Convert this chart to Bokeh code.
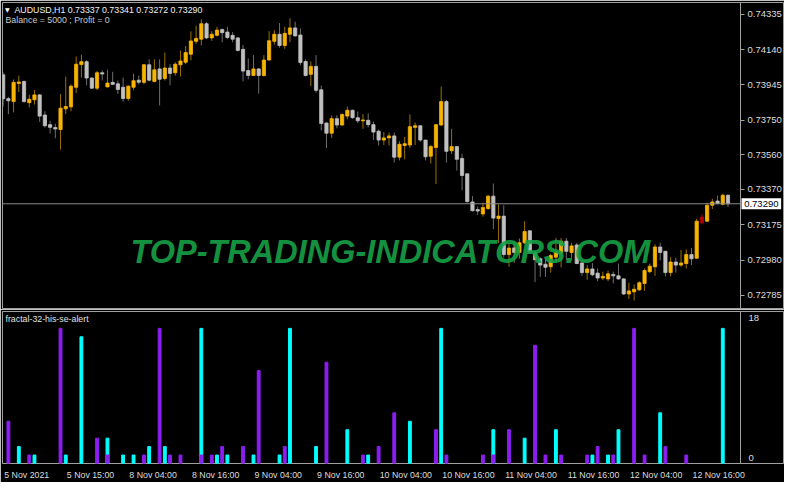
from bokeh.plotting import figure
from bokeh.models import (ColumnDataSource, Range1d, FixedTicker, Label, LinearAxis,
                          NumeralTickFormatter, AllLabels)
from bokeh.layouts import column
from bokeh.embed import file_html
from bokeh.resources import INLINE

# ---------------- data (AUDUSD H1) ----------------
opens = [
    0.74001, 0.73869, 0.73853, 0.73953, 0.73964, 0.73847, 0.73863, 0.73890, 0.73779, 0.73726,
    0.73710, 0.73699, 0.73813, 0.73824, 0.73932, 0.74057, 0.74073, 0.73983, 0.73927, 0.74012,
    0.73934, 0.73959, 0.73951, 0.73932, 0.73870, 0.73932, 0.73971, 0.73959, 0.74056, 0.73964,
    0.74033, 0.73980, 0.74038, 0.74012, 0.74056, 0.74070, 0.74114, 0.74185, 0.74197, 0.74282,
    0.74204, 0.74218, 0.74250, 0.74236, 0.74218, 0.74204, 0.74141, 0.74024, 0.73997, 0.74033,
    0.73997, 0.74082, 0.74185, 0.74224, 0.74162, 0.74224, 0.74259, 0.74220, 0.74074, 0.74003,
    0.74047, 0.73918, 0.73735, 0.73679, 0.73759, 0.73724, 0.73773, 0.73805, 0.73764, 0.73747,
    0.73750, 0.73726, 0.73690, 0.73641, 0.73653, 0.73664, 0.73547, 0.73611, 0.73614, 0.73711,
    0.73720, 0.73641, 0.73552, 0.73600, 0.73724, 0.73853, 0.73582, 0.73605, 0.73540, 0.73455,
    0.73300, 0.73258, 0.73234, 0.73264, 0.73332, 0.73209, 0.73222, 0.73010, 0.73047, 0.73022,
    0.73075, 0.73141, 0.73022, 0.72987, 0.72957, 0.72943, 0.72996, 0.73017, 0.73084, 0.73022,
    0.73063, 0.72964, 0.72911, 0.72931, 0.72908, 0.72881, 0.72876, 0.72901, 0.72893, 0.72876,
    0.72793, 0.72805, 0.72816, 0.72851, 0.72916, 0.72943, 0.73052, 0.73028, 0.72911, 0.72969,
    0.72952, 0.72961, 0.73010, 0.72990, 0.73185, 0.73194, 0.73282, 0.73305, 0.73287, 0.73337]

highs = [
    0.74012, 0.73879, 0.73975, 0.73996, 0.73969, 0.73890, 0.73916, 0.73895, 0.73800, 0.73747,
    0.73731, 0.73895, 0.73991, 0.73948, 0.74102, 0.74112, 0.74081, 0.73985, 0.74022, 0.74024,
    0.74028, 0.74017, 0.73969, 0.73985, 0.73943, 0.74006, 0.73996, 0.74059, 0.74086, 0.74086,
    0.74086, 0.74123, 0.74059, 0.74070, 0.74134, 0.74160, 0.74240, 0.74271, 0.74307, 0.74291,
    0.74241, 0.74265, 0.74256, 0.74265, 0.74236, 0.74208, 0.74165, 0.74091, 0.74109, 0.74038,
    0.74109, 0.74241, 0.74247, 0.74286, 0.74265, 0.74312, 0.74294, 0.74256, 0.74086, 0.74074,
    0.74109, 0.73941, 0.73738, 0.73777, 0.73777, 0.73788, 0.73826, 0.73809, 0.73798, 0.73784,
    0.73788, 0.73743, 0.73699, 0.73685, 0.73682, 0.73682, 0.73635, 0.73658, 0.73782, 0.73738,
    0.73720, 0.73641, 0.73614, 0.73728, 0.73936, 0.73862, 0.73703, 0.73607, 0.73565, 0.73457,
    0.73332, 0.73275, 0.73296, 0.73339, 0.73402, 0.73287, 0.73282, 0.73075, 0.73084, 0.73099,
    0.73194, 0.73143, 0.73031, 0.72996, 0.72993, 0.73014, 0.73102, 0.73102, 0.73102, 0.73075,
    0.73075, 0.72982, 0.72952, 0.72964, 0.72934, 0.72916, 0.72922, 0.72916, 0.72961, 0.72881,
    0.72855, 0.72846, 0.72863, 0.72934, 0.72961, 0.73067, 0.73075, 0.73031, 0.72996, 0.72993,
    0.73035, 0.73038, 0.73046, 0.73208, 0.73234, 0.73296, 0.73317, 0.73335, 0.73346, 0.73341]

lows = [
    0.73826, 0.73784, 0.73794, 0.73906, 0.73847, 0.73821, 0.73837, 0.73741, 0.73710, 0.73678,
    0.73651, 0.73588, 0.73784, 0.73800, 0.73900, 0.73985, 0.73943, 0.73922, 0.73916, 0.73969,
    0.73932, 0.73943, 0.73895, 0.73853, 0.73858, 0.73916, 0.73948, 0.73948, 0.73964, 0.73959,
    0.73832, 0.73969, 0.73943, 0.73996, 0.73991, 0.74059, 0.74081, 0.74171, 0.74162, 0.74197,
    0.74188, 0.74212, 0.74180, 0.74197, 0.74180, 0.74130, 0.73964, 0.73976, 0.73994, 0.73897,
    0.73991, 0.74079, 0.74167, 0.74150, 0.74144, 0.74180, 0.74212, 0.74053, 0.73991, 0.73938,
    0.73902, 0.73694, 0.73597, 0.73653, 0.73706, 0.73720, 0.73756, 0.73759, 0.73735, 0.73703,
    0.73711, 0.73641, 0.73611, 0.73614, 0.73611, 0.73517, 0.73529, 0.73535, 0.73597, 0.73614,
    0.73632, 0.73529, 0.73512, 0.73399, 0.73720, 0.73517, 0.73565, 0.73473, 0.73364, 0.73296,
    0.73247, 0.73229, 0.73219, 0.73256, 0.73150, 0.73074, 0.72993, 0.72943, 0.72964, 0.72987,
    0.73068, 0.73014, 0.72858, 0.72887, 0.72887, 0.72911, 0.72964, 0.72940, 0.72978, 0.72978,
    0.72957, 0.72893, 0.72872, 0.72890, 0.72863, 0.72869, 0.72863, 0.72851, 0.72872, 0.72787,
    0.72766, 0.72757, 0.72810, 0.72810, 0.72908, 0.72893, 0.72978, 0.72890, 0.72890, 0.72911,
    0.72943, 0.72934, 0.72952, 0.72987, 0.73176, 0.73190, 0.73261, 0.73287, 0.73282, 0.73272]

closes = [
    0.73869, 0.73858, 0.73959, 0.73961, 0.73853, 0.73866, 0.73890, 0.73773, 0.73720, 0.73711,
    0.73702, 0.73817, 0.73826, 0.73938, 0.74059, 0.74073, 0.73983, 0.73927, 0.74012, 0.74005,
    0.73955, 0.73948, 0.73920, 0.73870, 0.73938, 0.73968, 0.73960, 0.74056, 0.73971, 0.74028,
    0.73976, 0.74038, 0.74008, 0.74059, 0.74077, 0.74123, 0.74187, 0.74201, 0.74282, 0.74204,
    0.74224, 0.74247, 0.74233, 0.74206, 0.74197, 0.74135, 0.74021, 0.73997, 0.74033, 0.73997,
    0.74082, 0.74188, 0.74224, 0.74162, 0.74229, 0.74259, 0.74215, 0.74068, 0.73997, 0.74047,
    0.73915, 0.73732, 0.73679, 0.73759, 0.73724, 0.73782, 0.73805, 0.73764, 0.73747, 0.73752,
    0.73726, 0.73685, 0.73641, 0.73653, 0.73664, 0.73547, 0.73618, 0.73621, 0.73715, 0.73720,
    0.73641, 0.73549, 0.73605, 0.73726, 0.73853, 0.73579, 0.73605, 0.73535, 0.73446, 0.73302,
    0.73252, 0.73250, 0.73270, 0.73332, 0.73211, 0.73222, 0.73010, 0.73046, 0.73022, 0.73075,
    0.73137, 0.73022, 0.72982, 0.72952, 0.72940, 0.73005, 0.73022, 0.73084, 0.73028, 0.73058,
    0.72961, 0.72911, 0.72931, 0.72899, 0.72881, 0.72890, 0.72904, 0.72893, 0.72876, 0.72793,
    0.72810, 0.72819, 0.72855, 0.72922, 0.72946, 0.73052, 0.73022, 0.72911, 0.72969, 0.72952,
    0.72964, 0.73010, 0.72987, 0.73194, 0.73217, 0.73282, 0.73300, 0.73291, 0.73337, 0.73290]

marked_bars = [134]          # bar drawn in dark red on the chart

price_ticks = [0.74335, 0.74140, 0.73945, 0.73750, 0.73560, 0.73370, 0.73175, 0.72980, 0.72785]

time_tick_bars = [0, 12, 24, 36, 48, 60, 72, 84, 96, 108, 120, 132]
time_tick_labels = ["5 Nov 2021", "5 Nov 15:00", "8 Nov 04:00", "8 Nov 16:00", "9 Nov 04:00",
                    "9 Nov 16:00", "10 Nov 04:00", "10 Nov 16:00", "11 Nov 04:00",
                    "11 Nov 16:00", "12 Nov 04:00", "12 Nov 16:00"]

# indicator "fractal-32-his-se-alert"
purple_bars = [1, 5, 11, 18, 20, 27, 30, 32, 34, 38, 40, 42, 46, 49, 54, 62, 69, 72, 75, 83,
               85, 92, 94, 97, 102, 104, 107, 112, 114, 117, 121, 123, 127, 131]
purple_vals = [5, 1, 16, 3, 1, 1, 16, 1, 1, 1, 1, 2, 2, 11, 2, 12, 1, 2, 6, 4,
               1, 1, 1, 4, 14, 1, 1, 1, 2, 1, 16, 1, 2, 1]
cyan_bars = [3, 6, 12, 15, 20, 23, 25, 28, 31, 38, 41, 43, 48, 53, 55, 60, 66, 70, 78, 84,
             94, 100, 106, 113, 116, 118, 126, 138]
cyan_vals = [2, 1, 1, 15, 3, 1, 1, 2, 2, 16, 1, 1, 1, 1, 16, 2, 4, 1, 5, 16,
             4, 3, 4, 1, 1, 4, 6, 16]
ind_min, ind_max = 0, 18

symbol = "AUDUSD,H1"
balance_text = "Balance = 5000 ; Profit = 0"
indicator_name = "fractal-32-his-se-alert"
watermark = "TOP-TRADING-INDICATORS.COM"

# ---------------- styling / geometry ----------------
BULL_BODY, BULL_WICK = "#F7B400", "#9A7000"
BEAR_BODY, BEAR_WICK = "#C0C0C0", "#6E6E6E"
MARK = "#B00000"
GREY = "#A0A0A0"
TXT = "#DCDCDC"
FONT = "Liberation Sans"
TIME_FS = 8.8

n = len(opens)
CHART_W, TOTAL_W = 738, 782          # chart area, chart + price scale (px)
FH, SFH = 306, 152
X0 = -0.13
X1 = n + 1.4                         # price-scale position (right edge of chart area)
px_x = (X1 - X0) / CHART_W           # bars per pixel
XE = X0 + TOTAL_W * px_x             # end of the frame (includes price-scale area)
Y0, Y1 = 0.72713, 0.74399
px_y = (Y1 - Y0) / FH

body_col, wick_col = [], []
for i in range(n):
    if i in marked_bars:
        body_col.append(MARK); wick_col.append(MARK)
    elif closes[i] >= opens[i]:
        body_col.append(BULL_BODY); wick_col.append(BULL_WICK)
    else:
        body_col.append(BEAR_BODY); wick_col.append(BEAR_WICK)

src = ColumnDataSource(dict(
    x=list(range(n)), o=opens, h=highs, l=lows, c=closes,
    top=[max(a, b) for a, b in zip(opens, closes)],
    bottom=[min(a, b) for a, b in zip(opens, closes)],
    body=body_col, wick=wick_col))

xr = Range1d(X0, XE)


def style_axis(ax, size="9.5px"):
    ax.axis_line_color = GREY
    ax.major_tick_line_color = GREY
    ax.major_tick_out = 4
    ax.major_tick_in = 0
    ax.minor_tick_line_color = None
    ax.major_label_text_color = TXT
    ax.major_label_text_font = FONT
    ax.major_label_text_font_size = size


p = figure(frame_width=TOTAL_W, frame_height=FH, x_range=xr, y_range=Range1d(Y0, Y1),
           x_axis_location=None, y_axis_location=None,
           output_backend="svg", toolbar_location=None,
           background_fill_color="black", border_fill_color="black",
           min_border_left=2, min_border_top=2, min_border_bottom=1, min_border_right=0,
           outline_line_color=GREY)
p.grid.visible = False

# price scale, drawn at the right edge of the chart area
ya = LinearAxis(fixed_location=X1, ticker=FixedTicker(ticks=price_ticks),
                formatter=NumeralTickFormatter(format="0.00000"))
style_axis(ya)
ya.major_label_standoff = 3
p.add_layout(ya, "right")

# candles
p.segment(x0="x", y0="l", x1="x", y1="h", line_color="wick", line_width=1, source=src)
p.vbar(x="x", width=0.62, top="top", bottom="bottom", fill_color="body",
       line_color="body", line_width=0.8, source=src)

# watermark
p.add_layout(Label(x=24.4, y=0.73026, text=watermark,
                   text_font=FONT, text_font_style="bold italic", text_font_size="32.5px",
                   text_color="#16A046", text_alpha=0.92, text_baseline="alphabetic"))

# current price line and tag
p.segment(x0=[X0], y0=[closes[-1]], x1=[X1], y1=[closes[-1]], line_color="#8C8C8C", line_width=1)
p.add_layout(Label(x=X1, y=closes[-1], text="\u00A0" + f"{closes[-1]:.5f}" + "\u00A0", x_offset=1,
                   text_align="left", text_baseline="middle", text_font=FONT,
                   text_font_size="9.5px", text_color="black",
                   background_fill_color="white"))

title = f"{symbol}  {opens[-1]:.5f} {highs[-1]:.5f} {lows[-1]:.5f} {closes[-1]:.5f}"
p.add_layout(Label(x=X0 + 2.5 * px_x, y=Y1 - 3.5 * px_y, text="\u25BC", text_font="DejaVu Sans",
                   text_font_size="6px", text_color="white", text_baseline="top"))
p.add_layout(Label(x=X0 + 12 * px_x, y=Y1 - 2 * px_y, text=title, text_font=FONT,
                   text_font_size="8.8px", text_color="#F0F0F0", text_baseline="top"))
p.add_layout(Label(x=X0 + 3 * px_x, y=Y1 - 12.5 * px_y, text=balance_text, text_font=FONT,
                   text_font_size="8.8px", text_color="#C8C8C8", text_baseline="top"))

# ---------------- indicator window ----------------
s = figure(frame_width=TOTAL_W, frame_height=SFH, x_range=xr, y_range=Range1d(ind_min, ind_max),
           y_axis_location=None, output_backend="svg", toolbar_location=None,
           background_fill_color="black", border_fill_color="black",
           min_border_left=2, min_border_top=2, min_border_bottom=2, min_border_right=0,
           outline_line_color=GREY)
s.grid.visible = False
s.vbar(x=cyan_bars, top=cyan_vals, bottom=0, width=0.55, color="#00FFFF")
s.vbar(x=purple_bars, top=purple_vals, bottom=0, width=0.55, color="#8B1EF0")

pad = (ind_max - ind_min) / SFH
t_hi, t_lo = ind_max - 6.5 * pad, ind_min + 5.5 * pad
sy = LinearAxis(fixed_location=X1, ticker=FixedTicker(ticks=[t_lo, t_hi]))
style_axis(sy)
sy.major_tick_line_color = None
sy.major_label_overrides = {t_lo: str(ind_min), t_hi: str(ind_max)}
sy.major_label_standoff = 4
s.add_layout(sy, "right")

# time scale: tick marks at the bars ...
tick_axis = LinearAxis(fixed_location=ind_min, ticker=FixedTicker(ticks=time_tick_bars),
                       major_label_overrides={b: "" for b in time_tick_bars})
style_axis(tick_axis, f"{TIME_FS}px")
tick_axis.axis_line_color = None
s.add_layout(tick_axis, "below")

# ... and labels that start at their tick (MetaTrader style): centre of each label
# is placed half its width to the right of the tick
CW = {" ": 0.278, ":": 0.278, "N": 0.722, "o": 0.556, "v": 0.5}
def half_width_bars(t):
    return 0.5 * sum(CW.get(ch, 0.556) for ch in t) * TIME_FS * px_x

label_pos = [b + half_width_bars(t) + 0.2 for b, t in zip(time_tick_bars, time_tick_labels)]
sx = s.xaxis[0]
sx.ticker = FixedTicker(ticks=label_pos)
sx.major_label_overrides = {x: t for x, t in zip(label_pos, time_tick_labels)}
sx.major_label_policy = AllLabels()
style_axis(sx, f"{TIME_FS}px")
sx.major_tick_line_color = None
sx.axis_line_color = None
sx.major_label_standoff = 2

s.add_layout(Label(x=X0 + 3 * px_x, y=ind_max - 2 * pad, text=indicator_name, text_font=FONT,
                   text_font_size="8.8px", text_color="#E0E0E0", text_baseline="top"))

layout = column(p, s)
open("out.html", "w").write(file_html(layout, INLINE))
